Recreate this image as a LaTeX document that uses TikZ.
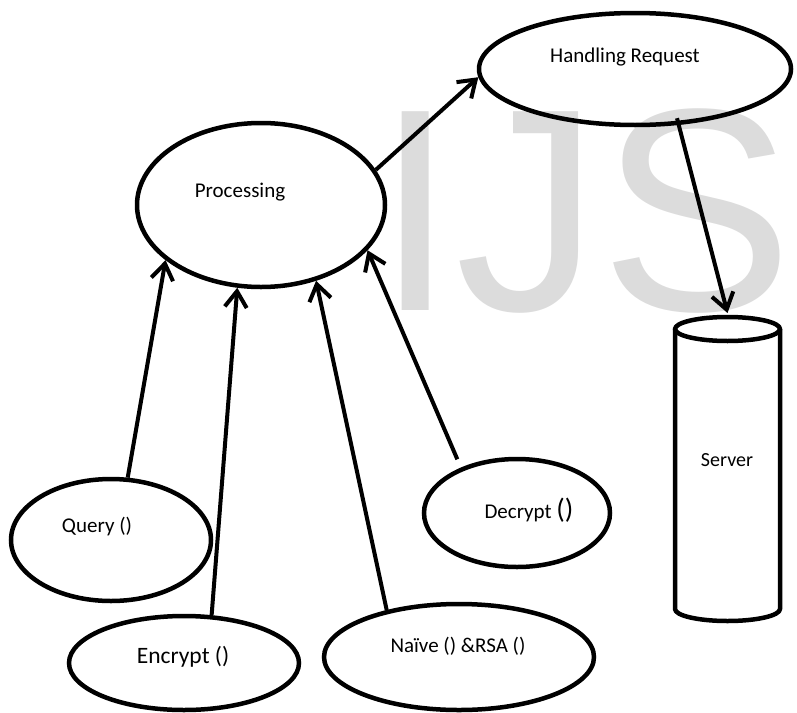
\documentclass[tikz,border=0pt]{standalone}
\usepackage{fontspec}
\setmainfont{Carlito}
\newfontfamily\wmfont{Liberation Sans}
\usetikzlibrary{arrows.meta,shapes.geometric}
\definecolor{wmgray}{RGB}{220,220,220}
\tikzset{
  ell/.style={ellipse, draw, line width=4.5pt, inner sep=0pt},
  cyl/.style={draw, line width=4.5pt, line join=round},
  lbl/.style={inner sep=0pt, font=\fontsize{21}{25}\selectfont},
  conn/.style={line width=4pt, -{Straight Barb[length=16pt,width=22pt]}},
}
\begin{document}
\begin{tikzpicture}[x=1pt,y=-1pt]
\useasboundingbox (0,0) rectangle (797,712);
% watermark
\node[anchor=base west, inner sep=0pt, text=wmgray, font=\wmfont\fontsize{289}{289}\selectfont] (wm) at (375,310) {IJS};
% shapes
\node[ell, minimum width=248pt, minimum height=164pt] (proc) at (261,205) {};
\node[ell, minimum width=312pt, minimum height=112pt] (hr) at (635,69) {};
\node[ell, minimum width=200pt, minimum height=122pt] (qry) at (111,540) {};
\node[ell, minimum width=230pt, minimum height=94pt] (enc) at (184,663) {};
\node[ell, minimum width=270pt, minimum height=106pt] (nai) at (459,657) {};
\node[ell, minimum width=186pt, minimum height=108pt] (dec) at (517,513) {};
% server cylinder
\draw[cyl] (675,329) -- (675,609) arc[start angle=180, end angle=0, x radius=52.5, y radius=12] -- (780,329);
\draw[cyl] (727.5,329) ellipse [x radius=52.5, y radius=12];
\coordinate (srvtop) at (727.5,313);
% labels
\node[lbl] (proct) at (240,192) {Processing};
\node[lbl] (hrt) at (625,57) {Handling Request};
\node[lbl] (qryt) at (97,527) {Query ()};
\node[lbl, font=\fontsize{23.5}{28}\selectfont] (enct) at (183,657) {Encrypt ()};
\node[lbl] (nait) at (458,646) {Naïve () \&RSA ()};
\node[lbl] (dect) at (529,510) {Decrypt {\fontsize{28}{32}\selectfont()}};
\node[lbl, font=\fontsize{20}{24}\selectfont] (srv) at (727,460) {Server};
% connectors
\draw[conn] (qry.75) -- (proc.-150);
\draw[conn] (enc.60) -- (proc.-106);
\draw[conn] (nai.147) -- (proc.-54);
\draw[conn, shorten <=9pt] (dec.141) -- (proc.-23);
\draw[conn] (proc.17) -- (hr.-177);
\draw[conn, shorten <=-7pt] (hr.-52) -- (srvtop);
\end{tikzpicture}
\end{document}
